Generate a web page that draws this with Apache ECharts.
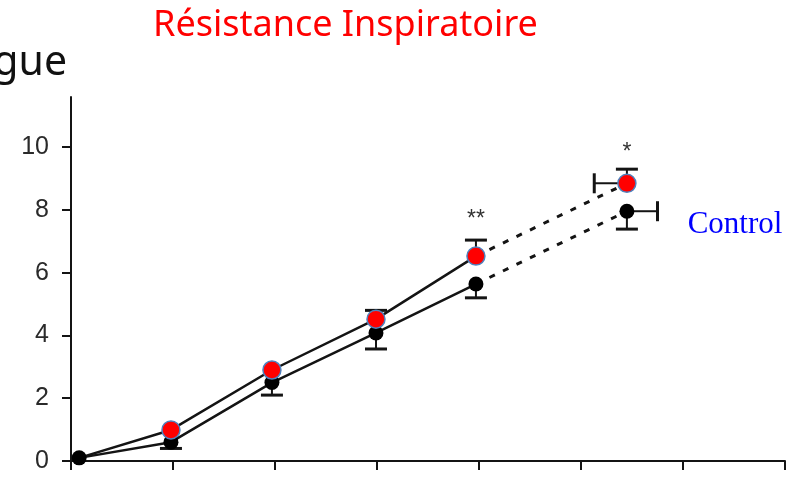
<!DOCTYPE html>
<html><head><meta charset="utf-8">
<script src="https://cdn.jsdelivr.net/npm/echarts@6/dist/echarts.min.js"></script>
<style>html,body{margin:0;padding:0;background:#fff}#c{width:805px;height:478px}</style>
</head><body><div id="c"></div>
<script>
// ---- data ----
const xPos = [0.08, 0.98, 1.97, 2.99, 3.97, 5.45];
const controlVals = [0.1, 0.6, 2.5, 4.08, 5.64, 7.96];
const fatigueVals = [0.1, 0.99, 2.9, 4.52, 6.53, 8.85];
const controlLow = [null, 0.4, 2.1, 3.57, 5.2, 7.39];
const fatigueHigh = [null, null, null, 4.8, 7.04, 9.3];
const controlXHigh = [null, null, null, null, null, 5.75];
const fatigueXLow = [null, null, null, null, null, 5.13];
const yTicks = [0, 2, 4, 6, 8, 10];
const xTicks = [0, 1, 2, 3, 4, 5, 6, 7];
const titleText = 'Résistance Inspiratoire';
const leftText = 'gue';
const controlLabel = 'Control';
const sig = [{x: 3.97, y: 7.68, t: '**'}, {x: 5.45, y: 9.82, t: '*'}];
const controlLabelPos = [6.51, 7.52];

// ---- build ----
const pairs = (xs, ys) => xs.map((x, i) => [x, ys[i]]);
const ctrlPts = pairs(xPos, controlVals);
const fatPts = pairs(xPos, fatigueVals);
const vErr = [];
xPos.forEach((x, i) => {
  if (controlLow[i] != null) vErr.push([x, controlVals[i], controlLow[i]]);
  if (fatigueHigh[i] != null) vErr.push([x, fatigueVals[i], fatigueHigh[i]]);
});
const hErr = [];
xPos.forEach((x, i) => {
  if (controlXHigh[i] != null) hErr.push([controlVals[i], x, controlXHigh[i]]);
  if (fatigueXLow[i] != null) hErr.push([fatigueVals[i], x, fatigueXLow[i]]);
});
const INK = '#141414';
function vRender(params, api) {
  const p1 = api.coord([api.value(0), api.value(1)]);
  const p2 = api.coord([api.value(0), api.value(2)]);
  return {type: 'group', children: [
    {type: 'line', shape: {x1: p1[0], y1: p1[1], x2: p2[0], y2: p2[1]}, style: {stroke: INK, lineWidth: 2}},
    {type: 'line', shape: {x1: p2[0] - 11, y1: p2[1], x2: p2[0] + 11, y2: p2[1]}, style: {stroke: INK, lineWidth: 3}}
  ]};
}
function hRender(params, api) {
  const p1 = api.coord([api.value(1), api.value(0)]);
  const p2 = api.coord([api.value(2), api.value(0)]);
  return {type: 'group', children: [
    {type: 'line', shape: {x1: p1[0], y1: p1[1], x2: p2[0], y2: p2[1]}, style: {stroke: INK, lineWidth: 2}},
    {type: 'line', shape: {x1: p2[0], y1: p2[1] - 10, x2: p2[0], y2: p2[1] + 10}, style: {stroke: INK, lineWidth: 3}}
  ]};
}
const solidStyle = {color: INK, width: 2.5};
const dashStyle = {color: INK, width: 3, type: [6, 9]};

const chart = echarts.init(document.getElementById('c'), null, {renderer: 'canvas'});
chart.setOption({
  animation: false,
  backgroundColor: '#fff',
  grid: {left: 71, right: 20, top: 97, bottom: 17},
  xAxis: {
    type: 'value', min: 0, max: 7, interval: 1,
    axisLine: {show: true, onZero: false, lineStyle: {color: INK, width: 2}},
    axisTick: {show: true, length: 9, lineStyle: {color: INK, width: 2}, customValues: xTicks},
    axisLabel: {show: false},
    splitLine: {show: false}
  },
  yAxis: {
    type: 'value', min: 0, max: 11.6,
    axisLine: {show: true, lineStyle: {color: INK, width: 2}},
    axisTick: {show: true, length: 9, lineStyle: {color: INK, width: 2}, customValues: yTicks},
    axisLabel: {show: true, customValues: yTicks, margin: 22, color: '#2a2a2a', fontSize: 25, fontFamily: 'Liberation Sans'},
    splitLine: {show: false}
  },
  graphic: [
    {type: 'text', left: 153, top: 8, style: {text: titleText, fill: '#ff0000', font: '36px "Noto Sans"'}},
    {type: 'text', right: 805 - 67, top: 43, style: {text: leftText, fill: '#111', font: '41px "Noto Sans"'}}
  ],
  series: [
    {type: 'line', data: ctrlPts.slice(0, 5), symbol: 'none', lineStyle: solidStyle, z: 2},
    {type: 'line', data: ctrlPts.slice(4), symbol: 'none', lineStyle: dashStyle, z: 2},
    {type: 'line', data: fatPts.slice(0, 5), symbol: 'none', lineStyle: solidStyle, z: 2},
    {type: 'line', data: fatPts.slice(4), symbol: 'none', lineStyle: dashStyle, z: 2},
    {type: 'custom', data: vErr, renderItem: vRender, z: 3},
    {type: 'custom', data: hErr, renderItem: hRender, z: 3},
    {type: 'scatter', data: fatPts, z: 4,
      symbolSize: (v, p) => p.dataIndex === 0 ? 0 : 18,
      itemStyle: {color: '#ff0000', borderColor: '#4f81bd', borderWidth: 1.5, opacity: 1}},
    {type: 'scatter', data: ctrlPts.slice(0, 1), z: 5, symbolSize: 15, itemStyle: {color: '#000', opacity: 1}},
    {type: 'scatter', data: ctrlPts.slice(1), z: 3.5, symbolSize: 15, itemStyle: {color: '#000', opacity: 1},
      markPoint: {
        symbol: 'circle', symbolSize: 0, silent: true,
        label: {show: true, position: 'inside'},
        data: sig.map(s => ({coord: [s.x, s.y], label: {formatter: s.t, color: '#333', fontSize: 23, fontFamily: 'Liberation Sans'}}))
          .concat([{coord: controlLabelPos, label: {formatter: controlLabel, color: '#0000ff', fontSize: 31, fontFamily: 'Liberation Serif'}}])
      }}
  ]
});
</script>
</body></html>
